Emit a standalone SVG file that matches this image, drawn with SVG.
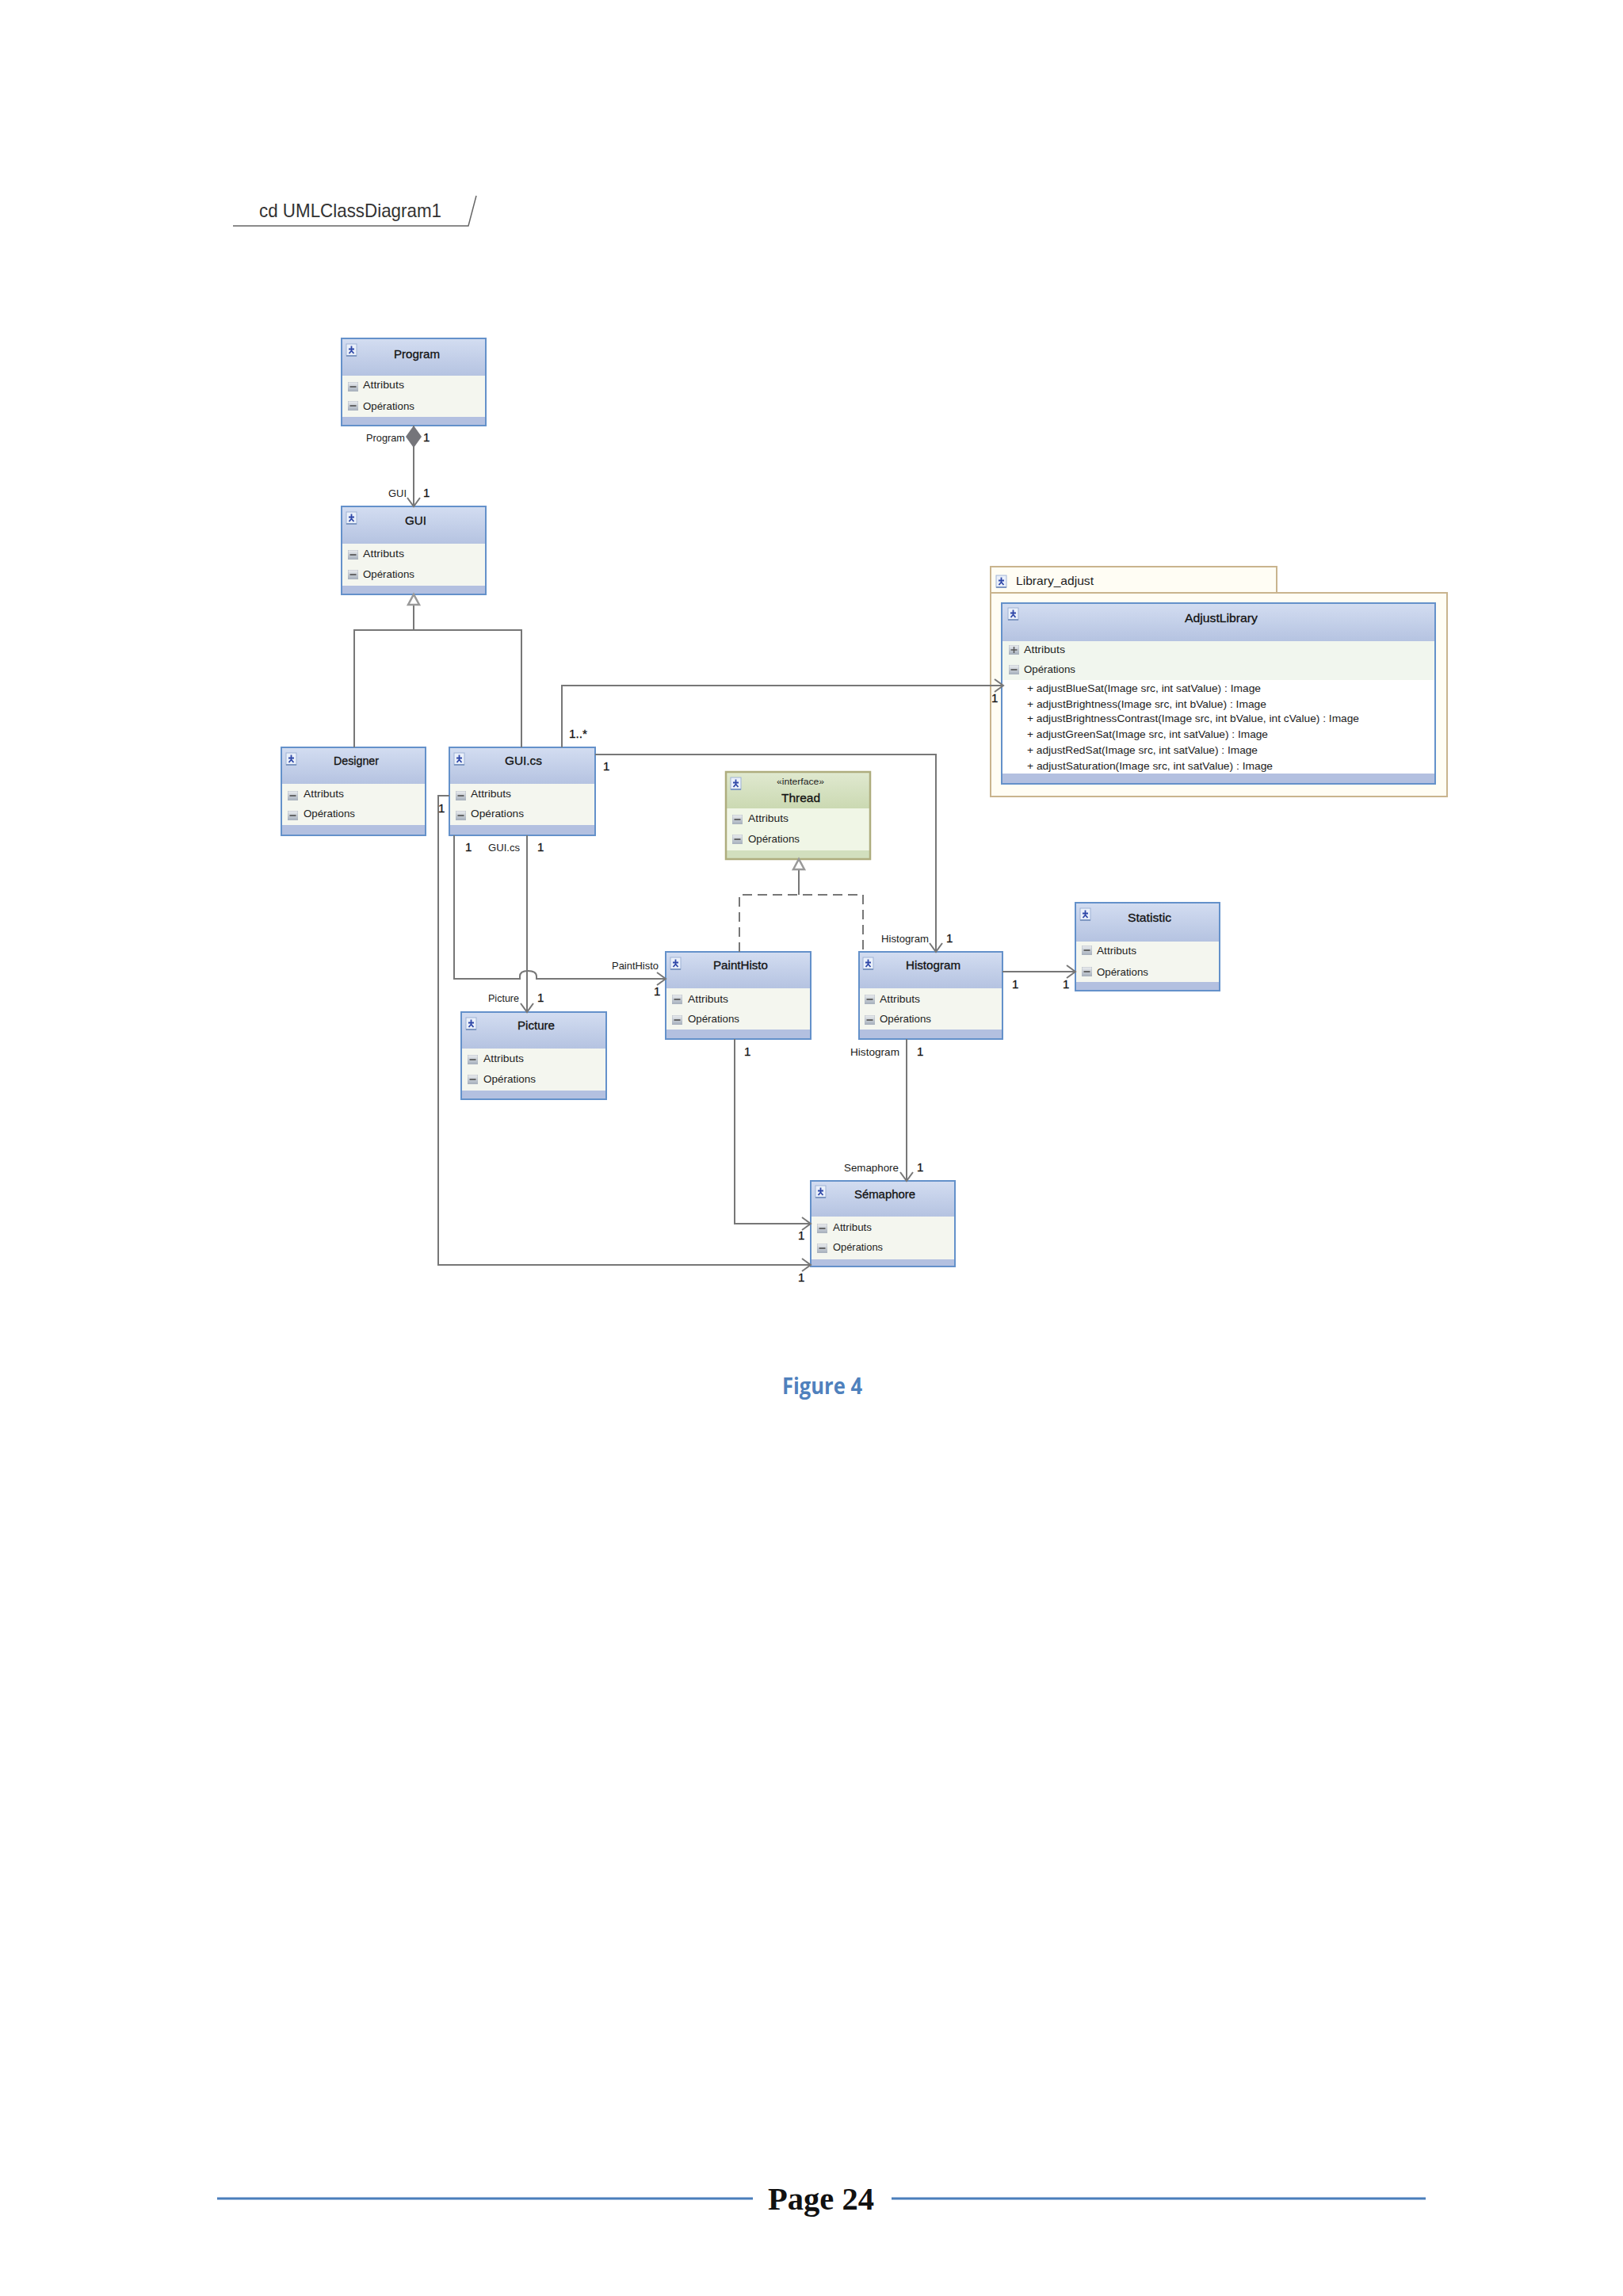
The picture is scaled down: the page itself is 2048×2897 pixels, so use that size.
<svg xmlns="http://www.w3.org/2000/svg" width="2048" height="2897" viewBox="0 0 2048 2897">
<style>
text{font-family:"Liberation Sans",Arial,sans-serif;fill:#1c1c1c;font-size:13px}
.t{font-size:15px;fill:#111;stroke:#111;stroke-width:0.3}
.c{fill:url(#hb)}
.box{fill:none;stroke:#6491ca;stroke-width:2}
.boxg{fill:none;stroke:#aead7e;stroke-width:2.5}
.cmp{fill:#f4f6ef}
.cmpg{fill:#f0f6e6}
.ft{fill:#b3c0e0}
.ftg{fill:#d2dfbe}
.l{fill:none;stroke:#777;stroke-width:2}
.d{fill:none;stroke:#777;stroke-width:2;stroke-dasharray:12 7}
.m{font-size:15px;fill:#111;stroke:#111;stroke-width:0.3}
</style>
<defs>
<linearGradient id="hb" x1="0" y1="0" x2="0" y2="1"><stop offset="0" stop-color="#d3ddf1"/><stop offset="1" stop-color="#b5c3e1"/></linearGradient>
<linearGradient id="hg" x1="0" y1="0" x2="0" y2="1"><stop offset="0" stop-color="#e0e9d0"/><stop offset="1" stop-color="#cbd9b2"/></linearGradient>
<linearGradient id="mg" x1="0" y1="0" x2="0" y2="1"><stop offset="0" stop-color="#eceef0"/><stop offset="1" stop-color="#a4aebb"/></linearGradient>
<marker id="open" markerUnits="userSpaceOnUse" markerWidth="16" markerHeight="20" viewBox="-14 -10 16 20" refX="0" refY="0" orient="auto"><path d="M-11 -8L0 0L-11 8" fill="none" stroke="#777" stroke-width="2"/></marker>
<marker id="tri" markerUnits="userSpaceOnUse" markerWidth="18" markerHeight="20" viewBox="-15 -10 18 20" refX="-13" refY="0" orient="auto"><path d="M-13 -7L0 0L-13 7Z" fill="#fff" stroke="#999" stroke-width="2.5"/></marker>
<marker id="dia" markerUnits="userSpaceOnUse" markerWidth="32" markerHeight="24" viewBox="-1 -12 32 24" refX="0" refY="0" orient="auto"><path d="M0 0L14 -10L28 0L14 10Z" fill="#75757a"/></marker>
<symbol id="ic" viewBox="0 0 13 16" width="13" height="16" overflow="visible"><rect x="0" y="0" width="13" height="15" fill="#eaf0fa" stroke="#9fb3d6" stroke-width="1"/><path d="M6.500 2.500v2M3 6.500h7M6.500 4.500v4M6.500 8.500l-3 3.500M6.500 8.500l3 3.500" stroke="#2f48a8" stroke-width="1.800" fill="none"/><rect x="0" y="14" width="13" height="2" fill="#7f98c2"/></symbol>
<symbol id="mn" viewBox="0 0 13 12" width="13" height="12"><rect x="0" y="0" width="13" height="12" fill="url(#mg)" stroke="#adb4bd" stroke-width="0.800"/><path d="M2.500 6h8" stroke="#555" stroke-width="1.700"/></symbol>
<symbol id="pl" viewBox="0 0 13 12" width="13" height="12"><rect x="0" y="0" width="13" height="12" fill="url(#mg)" stroke="#adb4bd" stroke-width="0.800"/><path d="M2.500 6h8M6.500 2v8" stroke="#555" stroke-width="1.500"/></symbol>
</defs>
<rect width="2048" height="2897" fill="#fff"/>

<g id="frame-label">
<path d="M294 285H591L596 266L601 247" fill="none" stroke="#666" stroke-width="1.500"/>
<text x="327" y="274" style="font-size:24px;fill:#333" textLength="230" lengthAdjust="spacingAndGlyphs">cd UMLClassDiagram1</text>
</g>

<g id="library-package">
<rect x="1250" y="715" width="361" height="33" fill="#fffdf4" stroke="#c9b48e" stroke-width="2"/>
<rect x="1250" y="748" width="576" height="257" fill="#fffdf4" stroke="#c9b48e" stroke-width="2"/>
<use href="#ic" x="1257" y="726"/>
<text x="1282" y="738" textLength="98" lengthAdjust="spacingAndGlyphs" style="font-size:15px">Library_adjust</text>
</g>

<g id="AdjustLibrary">
<rect x="1264" y="761" width="547" height="48" class="c"/><rect x="1264" y="809" width="547" height="49" style="fill:#f1f6ee"/><rect x="1264" y="858" width="547" height="118" fill="#fff"/><rect x="1264" y="976" width="547" height="13" class="ft"/>
<rect x="1264" y="761" width="547" height="228" class="box"/>
<use href="#ic" x="1272" y="767"/>
<text class="t" x="1495" y="785" textLength="92" lengthAdjust="spacingAndGlyphs">AdjustLibrary</text>
<use href="#pl" x="1273" y="814"/><text x="1292" y="824" textLength="52" lengthAdjust="spacingAndGlyphs">Attributs</text>
<use href="#mn" x="1273" y="839"/><text x="1292" y="849" textLength="65" lengthAdjust="spacingAndGlyphs">Opérations</text>
<text x="1296" y="873" textLength="295" lengthAdjust="spacingAndGlyphs">+ adjustBlueSat(Image src, int satValue) : Image</text>
<text x="1296" y="893" textLength="302" lengthAdjust="spacingAndGlyphs">+ adjustBrightness(Image src, int bValue) : Image</text>
<text x="1296" y="911" textLength="419" lengthAdjust="spacingAndGlyphs">+ adjustBrightnessContrast(Image src, int bValue, int cValue) : Image</text>
<text x="1296" y="931" textLength="304" lengthAdjust="spacingAndGlyphs">+ adjustGreenSat(Image src, int satValue) : Image</text>
<text x="1296" y="951" textLength="291" lengthAdjust="spacingAndGlyphs">+ adjustRedSat(Image src, int satValue) : Image</text>
<text x="1296" y="971" textLength="310" lengthAdjust="spacingAndGlyphs">+ adjustSaturation(Image src, int satValue) : Image</text>
</g>

<g id="Program"><rect x="431" y="427" width="182" height="47" class="c"/><rect x="431" y="474" width="182" height="52" class="cmp"/><rect x="431" y="526" width="182" height="11" class="ft"/><rect x="431" y="427" width="182" height="110" class="box"/>
<use href="#ic" x="437" y="434"/><text class="t" x="497" y="452" textLength="58" lengthAdjust="spacingAndGlyphs">Program</text>
<use href="#mn" x="439" y="482"/><text x="458" y="490" textLength="52" lengthAdjust="spacingAndGlyphs">Attributs</text>
<use href="#mn" x="439" y="506"/><text x="458" y="517" textLength="65" lengthAdjust="spacingAndGlyphs">Opérations</text></g>

<g id="GUI"><rect x="431" y="639" width="182" height="47" class="c"/><rect x="431" y="686" width="182" height="53" class="cmp"/><rect x="431" y="739" width="182" height="11" class="ft"/><rect x="431" y="639" width="182" height="111" class="box"/>
<use href="#ic" x="437" y="646"/><text class="t" x="511" y="662" textLength="27" lengthAdjust="spacingAndGlyphs">GUI</text>
<use href="#mn" x="439" y="694"/><text x="458" y="703" textLength="52" lengthAdjust="spacingAndGlyphs">Attributs</text>
<use href="#mn" x="439" y="719"/><text x="458" y="729" textLength="65" lengthAdjust="spacingAndGlyphs">Opérations</text></g>

<g id="Designer"><rect x="355" y="943" width="182" height="46" class="c"/><rect x="355" y="989" width="182" height="52" class="cmp"/><rect x="355" y="1041" width="182" height="13" class="ft"/><rect x="355" y="943" width="182" height="111" class="box"/>
<use href="#ic" x="361" y="950"/><text class="t" x="421" y="965" textLength="57" lengthAdjust="spacingAndGlyphs">Designer</text>
<use href="#mn" x="363" y="998"/><text x="383" y="1006" textLength="51" lengthAdjust="spacingAndGlyphs">Attributs</text>
<use href="#mn" x="363" y="1023"/><text x="383" y="1031" textLength="65" lengthAdjust="spacingAndGlyphs">Opérations</text></g>

<g id="GUI-cs"><rect x="567" y="943" width="184" height="46" class="c"/><rect x="567" y="989" width="184" height="52" class="cmp"/><rect x="567" y="1041" width="184" height="13" class="ft"/><rect x="567" y="943" width="184" height="111" class="box"/>
<use href="#ic" x="573" y="950"/><text class="t" x="637" y="965" textLength="47" lengthAdjust="spacingAndGlyphs">GUI.cs</text>
<use href="#mn" x="575" y="998"/><text x="594" y="1006" textLength="51" lengthAdjust="spacingAndGlyphs">Attributs</text>
<use href="#mn" x="575" y="1023"/><text x="594" y="1031" textLength="67" lengthAdjust="spacingAndGlyphs">Opérations</text></g>

<g id="Thread"><rect x="916" y="974" width="182" height="46" fill="url(#hg)"/><rect x="916" y="1020" width="182" height="53" class="cmpg"/><rect x="916" y="1073" width="182" height="11" class="ftg"/><rect x="916" y="974" width="182" height="110" class="boxg"/>
<use href="#ic" x="922" y="981"/><text x="980" y="990" style="font-size:11px" textLength="60" lengthAdjust="spacingAndGlyphs">«interface»</text><text class="t" x="986" y="1012" textLength="49" lengthAdjust="spacingAndGlyphs">Thread</text>
<use href="#mn" x="924" y="1028"/><text x="944" y="1037" textLength="51" lengthAdjust="spacingAndGlyphs">Attributs</text>
<use href="#mn" x="924" y="1053"/><text x="944" y="1063" textLength="65" lengthAdjust="spacingAndGlyphs">Opérations</text></g>

<g id="Statistic"><rect x="1357" y="1139" width="182" height="49" class="c"/><rect x="1357" y="1188" width="182" height="51" class="cmp"/><rect x="1357" y="1239" width="182" height="11" class="ft"/><rect x="1357" y="1139" width="182" height="111" class="box"/>
<use href="#ic" x="1363" y="1146"/><text class="t" x="1423" y="1163" textLength="55" lengthAdjust="spacingAndGlyphs">Statistic</text>
<use href="#mn" x="1365" y="1193"/><text x="1384" y="1204" textLength="50" lengthAdjust="spacingAndGlyphs">Attributs</text>
<use href="#mn" x="1365" y="1220"/><text x="1384" y="1231" textLength="65" lengthAdjust="spacingAndGlyphs">Opérations</text></g>

<g id="PaintHisto"><rect x="840" y="1201" width="183" height="46" class="c"/><rect x="840" y="1247" width="183" height="52" class="cmp"/><rect x="840" y="1299" width="183" height="12" class="ft"/><rect x="840" y="1201" width="183" height="110" class="box"/>
<use href="#ic" x="846" y="1208"/><text class="t" x="900" y="1223" textLength="69" lengthAdjust="spacingAndGlyphs">PaintHisto</text>
<use href="#mn" x="848" y="1255"/><text x="868" y="1265" textLength="51" lengthAdjust="spacingAndGlyphs">Attributs</text>
<use href="#mn" x="848" y="1281"/><text x="868" y="1290" textLength="65" lengthAdjust="spacingAndGlyphs">Opérations</text></g>

<g id="Histogram"><rect x="1084" y="1201" width="181" height="46" class="c"/><rect x="1084" y="1247" width="181" height="52" class="cmp"/><rect x="1084" y="1299" width="181" height="12" class="ft"/><rect x="1084" y="1201" width="181" height="110" class="box"/>
<use href="#ic" x="1089" y="1208"/><text class="t" x="1143" y="1223" textLength="69" lengthAdjust="spacingAndGlyphs">Histogram</text>
<use href="#mn" x="1091" y="1255"/><text x="1110" y="1265" textLength="51" lengthAdjust="spacingAndGlyphs">Attributs</text>
<use href="#mn" x="1091" y="1281"/><text x="1110" y="1290" textLength="65" lengthAdjust="spacingAndGlyphs">Opérations</text></g>

<g id="Picture"><rect x="582" y="1277" width="183" height="46" class="c"/><rect x="582" y="1323" width="183" height="53" class="cmp"/><rect x="582" y="1376" width="183" height="11" class="ft"/><rect x="582" y="1277" width="183" height="110" class="box"/>
<use href="#ic" x="588" y="1284"/><text class="t" x="653" y="1299" textLength="47" lengthAdjust="spacingAndGlyphs">Picture</text>
<use href="#mn" x="590" y="1331"/><text x="610" y="1340" textLength="51" lengthAdjust="spacingAndGlyphs">Attributs</text>
<use href="#mn" x="590" y="1356"/><text x="610" y="1366" textLength="66" lengthAdjust="spacingAndGlyphs">Opérations</text></g>

<g id="Semaphore"><rect x="1023" y="1490" width="182" height="45" class="c"/><rect x="1023" y="1535" width="182" height="54" class="cmp"/><rect x="1023" y="1589" width="182" height="9" class="ft"/><rect x="1023" y="1490" width="182" height="108" class="box"/>
<use href="#ic" x="1029" y="1496"/><text class="t" x="1078" y="1512" textLength="77" lengthAdjust="spacingAndGlyphs">Sémaphore</text>
<use href="#mn" x="1031" y="1544"/><text x="1051" y="1553" textLength="49" lengthAdjust="spacingAndGlyphs">Attributs</text>
<use href="#mn" x="1031" y="1569"/><text x="1051" y="1578" textLength="63" lengthAdjust="spacingAndGlyphs">Opérations</text></g>

<g id="connectors">
<path class="l" d="M522 537V639" marker-start="url(#dia)" marker-end="url(#open)"/>
<path class="l" d="M522 795V763" marker-end="url(#tri)"/>
<path class="l" d="M447 943V795H658V943"/>
<path class="l" d="M709 943V865H1266" marker-end="url(#open)"/>
<path class="l" d="M751 952H1181V1201" marker-end="url(#open)"/>
<path class="l" d="M573 1054V1235H656V1232Q656 1225 666 1225Q677 1225 677 1232V1235H840" marker-end="url(#open)"/>
<path class="l" d="M665 1054V1277" marker-end="url(#open)"/>
<path class="l" d="M567 1004H553V1596H1023" marker-end="url(#open)"/>
<path class="l" d="M927 1311V1544H1023" marker-end="url(#open)"/>
<path class="l" d="M1144 1311V1490" marker-end="url(#open)"/>
<path class="l" d="M1265 1226H1357" marker-end="url(#open)"/>
<path class="l" d="M1008 1129V1097" marker-end="url(#tri)"/>
<path class="d" d="M933 1201V1129H1089V1201"/>
</g>

<g id="connector-labels">
<text x="462" y="557" textLength="49" lengthAdjust="spacingAndGlyphs">Program</text><text class="m" x="534" y="557">1</text>
<text x="490" y="627" textLength="23" lengthAdjust="spacingAndGlyphs">GUI</text><text class="m" x="534" y="627">1</text>
<text class="m" x="718" y="931" textLength="23" lengthAdjust="spacingAndGlyphs">1..*</text>
<text class="m" x="761" y="972">1</text>
<text class="m" x="553" y="1025">1</text>
<text class="m" x="587" y="1074">1</text><text x="616" y="1074" textLength="40" lengthAdjust="spacingAndGlyphs">GUI.cs</text><text class="m" x="678" y="1074">1</text>
<text x="616" y="1264" textLength="39" lengthAdjust="spacingAndGlyphs">Picture</text><text class="m" x="678" y="1264">1</text>
<text x="772" y="1223" textLength="59" lengthAdjust="spacingAndGlyphs">PaintHisto</text><text class="m" x="825" y="1256">1</text>
<text x="1112" y="1189" textLength="60" lengthAdjust="spacingAndGlyphs">Histogram</text><text class="m" x="1194" y="1189">1</text>
<text class="m" x="1277" y="1247">1</text><text class="m" x="1341" y="1247">1</text>
<text class="m" x="939" y="1332">1</text>
<text x="1073" y="1332" textLength="62" lengthAdjust="spacingAndGlyphs">Histogram</text><text class="m" x="1157" y="1332">1</text>
<text x="1065" y="1478" textLength="69" lengthAdjust="spacingAndGlyphs">Semaphore</text><text class="m" x="1157" y="1478">1</text>
<text class="m" x="1007" y="1564">1</text><text class="m" x="1007" y="1617">1</text>
<text class="m" x="1251" y="886">1</text>
</g>

<g id="caption"><text x="987" y="1759" style="font-size:28px;font-weight:bold;fill:#4f81bd;font-family:'Open Sans','Liberation Sans',sans-serif" textLength="101" lengthAdjust="spacingAndGlyphs">Figure 4</text></g>

<g id="footer">
<path d="M274 2774H950M1125 2774H1799" stroke="#4a7ebb" stroke-width="3" fill="none"/>
<text x="969" y="2788" style="font-size:40px;font-weight:bold;fill:#111;font-family:'Liberation Serif',serif" textLength="134" lengthAdjust="spacingAndGlyphs">Page 24</text>
</g>
</svg>
